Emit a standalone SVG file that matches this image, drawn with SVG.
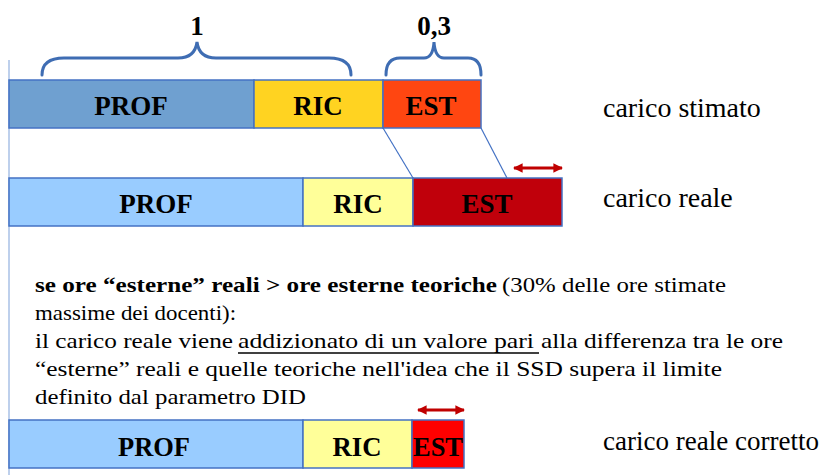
<svg xmlns="http://www.w3.org/2000/svg" width="824" height="475" viewBox="0 0 824 475">
<defs>
<style>
.seg{stroke:#4472C4;stroke-width:1.5}
.lbl{font-family:'Liberation Serif','Times New Roman',serif;font-weight:bold;font-size:27px;text-anchor:middle;fill:#000}
.txt{font-family:'Liberation Serif','Times New Roman',serif;font-size:22px;fill:#000}
.side{font-family:'Liberation Serif','Times New Roman',serif;font-size:28px;fill:#000}
.brace{fill:none;stroke:#3F6DB3;stroke-width:3;stroke-linecap:round}
.conn{stroke:#4472C4;stroke-width:1.2;fill:none}
.arr{stroke:#C00000;stroke-width:3;marker-start:url(#ah);marker-end:url(#ah)}
</style>
<marker id="ah" viewBox="0 0 10 10" refX="9" refY="5" markerWidth="3.2" markerHeight="3.2" orient="auto-start-reverse" markerUnits="strokeWidth">
<path d="M0,0 L10,5 L0,10 z" fill="#C00000"/>
</marker>
</defs>
<rect width="824" height="475" fill="#fff"/>
<line x1="9" y1="60" x2="9" y2="475" stroke="#A9C1E6" stroke-width="1.5"/>

<g id="brace1">
<path class="brace" d="M42,75 Q42,58 64,58 L178,58 Q195,58 197,42 Q199,58 216,58 L329,58 Q351,58 351,75"/>
<text class="lbl" x="197" y="35">1</text>
</g>
<g id="brace2">
<path class="brace" d="M386,75 Q386,58 400,58 L424,58 Q433,58 434,42 Q435,58 444,58 L468,58 Q481,58 481,75"/>
<text class="lbl" x="434" y="35">0,3</text>
</g>

<g id="bar-stimato">
<rect class="seg" x="9" y="80" width="245" height="48" fill="#6FA0D0"/>
<rect class="seg" x="254" y="80" width="129" height="48" fill="#FFD321"/>
<rect class="seg" x="383" y="80" width="98" height="48" fill="#FF4611"/>
<text class="lbl" x="131" y="115">PROF</text>
<text class="lbl" x="318" y="115">RIC</text>
<text class="lbl" x="431" y="115">EST</text>
<text class="side" x="603" y="117">carico stimato</text>
</g>

<g id="connectors">
<line class="conn" x1="383" y1="128" x2="413" y2="178"/>
<line class="conn" x1="481" y1="128" x2="507" y2="178"/>
<line class="arr" x1="514" y1="168" x2="562" y2="168"/>
<line class="arr" x1="418" y1="410" x2="464" y2="410"/>
</g>

<g id="bar-reale">
<rect class="seg" x="9" y="178" width="294" height="48" fill="#99CCFF"/>
<rect class="seg" x="303" y="178" width="110" height="48" fill="#FFFF99"/>
<rect class="seg" x="413" y="178" width="149" height="48" fill="#C0000B"/>
<text class="lbl" x="156" y="213">PROF</text>
<text class="lbl" x="358" y="213">RIC</text>
<text class="lbl" x="487" y="213">EST</text>
<text class="side" x="603" y="207">carico reale</text>
</g>

<g id="testo">
<text class="txt" x="35" y="292" font-weight="bold" textLength="462" lengthAdjust="spacingAndGlyphs">se ore “esterne” reali &gt; ore esterne teoriche</text>
<text class="txt" x="502" y="292" textLength="224" lengthAdjust="spacingAndGlyphs">(30% delle ore stimate</text>
<text class="txt" x="35" y="320" textLength="201" lengthAdjust="spacingAndGlyphs">massime dei docenti):</text>
<text class="txt" x="35" y="348" textLength="198" lengthAdjust="spacingAndGlyphs">il carico reale viene</text>
<text class="txt" x="238" y="348" textLength="296" lengthAdjust="spacingAndGlyphs">addizionato di un valore pari</text>
<line x1="238" y1="353" x2="539" y2="353" stroke="#000" stroke-width="1.5"/>
<text class="txt" x="541" y="348" textLength="242" lengthAdjust="spacingAndGlyphs">alla differenza tra le ore</text>
<text class="txt" x="35" y="376" textLength="687" lengthAdjust="spacingAndGlyphs">“esterne” reali e quelle teoriche nell'idea che il SSD supera il limite</text>
<text class="txt" x="35" y="404" textLength="271" lengthAdjust="spacingAndGlyphs">definito dal parametro DID</text>
</g>

<g id="bar-corretto">
<rect class="seg" x="9" y="420" width="294" height="48" fill="#99CCFF"/>
<rect class="seg" x="303" y="420" width="109" height="48" fill="#FFFF99"/>
<rect class="seg" x="412" y="420" width="52" height="48" fill="#FF0000"/>
<text class="lbl" x="154" y="456" font-size="31" textLength="72" lengthAdjust="spacingAndGlyphs">PROF</text>
<text class="lbl" x="357" y="456" font-size="31" textLength="49" lengthAdjust="spacingAndGlyphs">RIC</text>
<text class="lbl" x="438" y="456" font-size="31" textLength="50" lengthAdjust="spacingAndGlyphs">EST</text>
<text class="side" x="603" y="450" font-size="25" textLength="216" lengthAdjust="spacingAndGlyphs">carico reale corretto</text>
</g>
</svg>
